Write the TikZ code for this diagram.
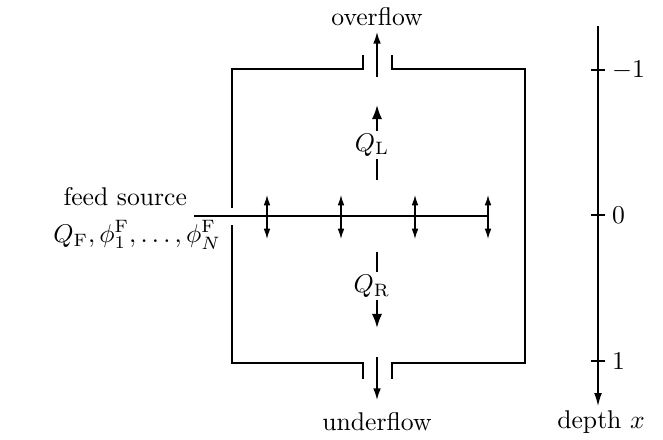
\documentclass[tikz,border=0pt]{standalone}
\usetikzlibrary{arrows.meta}
\begin{document}
\begin{tikzpicture}[x=0.39pt,y=-0.39pt,
  wall/.style={line width=0.8pt},
  flow/.style={line width=0.6pt,-{Latex[length=4.5pt,width=3pt]}},
  bigflow/.style={line width=0.8pt,-{Latex[length=5.5pt,width=4pt]}},
  dbl/.style={line width=0.5pt,{Latex[length=4pt,width=2.6pt]}-{Latex[length=4pt,width=2.6pt]}},
  axis/.style={line width=0.5pt,-{Latex[length=5pt,width=3pt]}},
  tick/.style={line width=0.5pt},
  lbl/.style={inner sep=1pt}]
\useasboundingbox (0,0) rectangle (663,439);
% container
\coordinate (tl1) at (363,55);
\coordinate (tl2) at (363,69);
\coordinate (tl3) at (232,69);
\coordinate (wl1) at (232,208);
\coordinate (wl2) at (232,225);
\coordinate (bl1) at (232,363);
\coordinate (bl2) at (363,363);
\coordinate (bl3) at (363,379);
\coordinate (tr1) at (392,55);
\coordinate (tr2) at (392,69);
\coordinate (tr3) at (525,69);
\coordinate (br1) at (525,363);
\coordinate (br2) at (392,363);
\coordinate (br3) at (392,379);
\draw[wall] (tl1) -- (tl2) -- (tl3) -- (wl1);
\draw[wall] (wl2) -- (bl1) -- (bl2) -- (bl3);
\draw[wall] (tr1) -- (tr2) -- (tr3) -- (br1) -- (br2) -- (br3);
% overflow / underflow
\node[lbl] (over) at (377,17) {overflow};
\node[lbl] (under) at (377,422) {underflow};
\coordinate (os) at (377,77);
\coordinate (ot) at (377,32);
\draw[flow] (os) -- (ot);
\coordinate (us) at (377,357);
\coordinate (ut) at (377,400);
\draw[flow] (us) -- (ut);
% Q_L and Q_R
\coordinate (qls) at (377,180);
\coordinate (qlt) at (377,105);
\draw[bigflow] (qls) -- node[pos=0.47,fill=white,inner sep=1pt,xshift=-2pt] (QL) {$Q_{\mathrm{L}}$} (qlt);
\coordinate (qrs) at (377,252);
\coordinate (qrt) at (377,328);
\draw[bigflow] (qrs) -- node[pos=0.45,fill=white,inner sep=1pt,xshift=-2pt] (QR) {$Q_{\mathrm{R}}$} (qrt);
% feed
\coordinate (f0) at (194,216);
\coordinate (f1) at (488,216);
\draw[line width=0.6pt] (f0) -- (f1);
\foreach \i/\xx in {1/267,2/341,3/415,4/488}{
  \coordinate (d\i a) at (\xx,195);
  \coordinate (d\i b) at (\xx,239);
  \draw[dbl] (d\i a) -- (d\i b);
}
\node[lbl,anchor=east] (feed) at (190,197) {feed source};
\node[lbl,anchor=east] (feedq) at (224,235) {$Q_{\mathrm{F}},\phi^{\mathrm{F}}_{1},\ldots,\phi^{\mathrm{F}}_{N}$};
% depth axis
\coordinate (at) at (598,26);
\coordinate (ab) at (598,406);
\draw[axis] (at) -- (ab);
\foreach \n/\yy/\t in {m/70/$-1$,z/215/$0$,p/361/$1$}{
  \coordinate (t\n a) at (591,\yy);
  \coordinate (t\n b) at (605,\yy);
  \draw[tick] (t\n a) -- (t\n b);
  \node[lbl,anchor=west] (l\n) at (609,\yy) {\t};
}
\node[lbl] (depth) at (601,422) {depth $x$};
\end{tikzpicture}
\end{document}
